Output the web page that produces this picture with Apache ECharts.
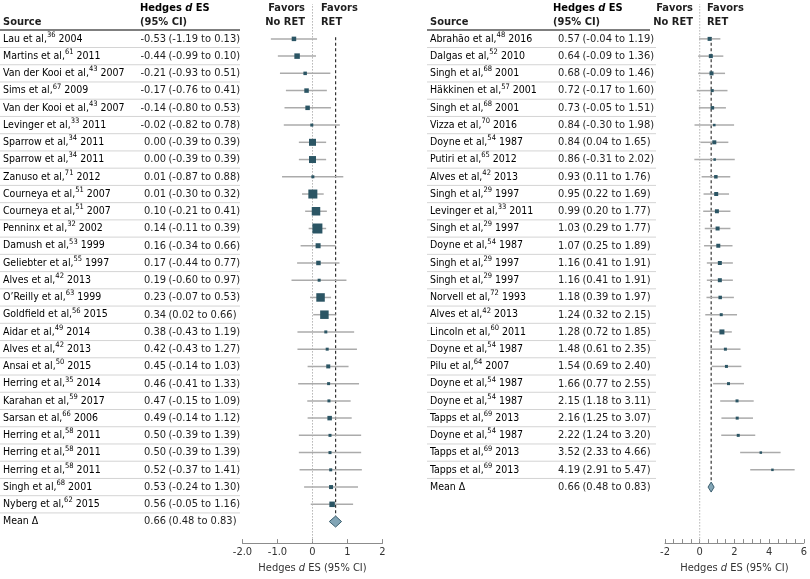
<!DOCTYPE html>
<html><head><meta charset="utf-8">
<script src="https://cdn.jsdelivr.net/npm/echarts@6/dist/echarts.min.js"></script>
<style>html,body{margin:0;padding:0;background:#fff}#c{width:810px;height:579px}</style>
</head><body><div id="c"></div>
<script>
// ---------- data ----------
const leftAuthors = ['Lau et al,','Martins et al,','Van der Kooi et al,','Sims et al,','Van der Kooi et al,','Levinger et al,','Sparrow et al,','Sparrow et al,','Zanuso et al,','Courneya et al,','Courneya et al,','Penninx et al,','Damush et al,','Geliebter et al,','Alves et al,','O\u2019Reilly et al,','Goldfield et al,','Aidar et al,','Alves et al,','Ansai et al,','Herring et al,','Karahan et al,','Sarsan et al,','Herring et al,','Herring et al,','Herring et al,','Singh et al,','Nyberg et al,'];
const leftRefs = [36,61,43,67,43,33,34,34,71,51,51,32,53,55,42,63,56,49,42,50,35,59,66,58,58,58,68,62];
const leftYears = [2004,2011,2007,2009,2007,2011,2011,2011,2012,2007,2007,2002,1999,1997,2013,1999,2015,2014,2013,2015,2014,2017,2006,2011,2011,2011,2001,2015];
const leftES = [-0.53,-0.44,-0.21,-0.17,-0.14,-0.02,0.00,0.00,0.01,0.01,0.10,0.14,0.16,0.17,0.19,0.23,0.34,0.38,0.42,0.45,0.46,0.47,0.49,0.50,0.50,0.52,0.53,0.56];
const leftLo = [-1.19,-0.99,-0.93,-0.76,-0.80,-0.82,-0.39,-0.39,-0.87,-0.30,-0.21,-0.11,-0.34,-0.44,-0.60,-0.07,0.02,-0.43,-0.43,-0.14,-0.41,-0.15,-0.14,-0.39,-0.39,-0.37,-0.24,-0.05];
const leftHi = [0.13,0.10,0.51,0.41,0.53,0.78,0.39,0.39,0.88,0.32,0.41,0.39,0.66,0.77,0.97,0.53,0.66,1.19,1.27,1.03,1.33,1.09,1.12,1.39,1.39,1.41,1.30,1.16];
const leftWeights = [4.5,5.5,3.5,4.5,4.5,3,7,7,3,9,8.5,10,5,4.5,3,8.5,8.5,3,3,4,3,3,4.5,3,3,3,4,5.5];

const rightAuthors = ['Abrah\u00e3o et al,','Dalgas et al,','Singh et al,','H\u00e4kkinen et al,','Singh et al,','Vizza et al,','Doyne et al,','Putiri et al,','Alves et al,','Singh et al,','Levinger et al,','Singh et al,','Doyne et al,','Singh et al,','Singh et al,','Norvell et al,','Alves et al,','Lincoln et al,','Doyne et al,','Pilu et al,','Doyne et al,','Doyne et al,','Tapps et al,','Doyne et al,','Tapps et al,','Tapps et al,'];
const rightRefs = [48,52,68,57,68,70,54,65,42,29,33,29,54,29,29,72,42,60,54,64,54,54,69,54,69,69];
const rightYears = [2016,2010,2001,2001,2001,2016,1987,2012,2013,1997,2011,1997,1987,1997,1997,1993,2013,2011,1987,2007,1987,1987,2013,1987,2013,2013];
const rightES = [0.57,0.64,0.68,0.72,0.73,0.84,0.84,0.86,0.93,0.95,0.99,1.03,1.07,1.16,1.16,1.18,1.24,1.28,1.48,1.54,1.66,2.15,2.16,2.22,3.52,4.19];
const rightLo = [-0.04,-0.09,-0.09,-0.17,-0.05,-0.30,0.04,-0.31,0.11,0.22,0.20,0.29,0.25,0.41,0.41,0.39,0.32,0.72,0.61,0.69,0.77,1.18,1.25,1.24,2.33,2.91];
const rightHi = [1.19,1.36,1.46,1.60,1.51,1.98,1.65,2.02,1.76,1.69,1.77,1.77,1.89,1.91,1.91,1.97,2.15,1.85,2.35,2.40,2.55,3.11,3.07,3.20,4.66,5.47];
const rightWeights = [4,4,4,3,3.5,2.5,4,2.5,3.5,4,4,4,4,4,4,3.5,3,5,3,3,3,3,3,3,2.5,2.5];

const meanES = 0.66, meanLo = 0.48, meanHi = 0.83;

const leftTickValues = [-2,-1,0,1,2];
const leftTickLabels = ['-2.0','-1.0','0','1','2'];
const rightTickValues = [-2,0,2,4,6];
const rightTickLabels = ['-2','0','2','4','6'];

// ---------- style ----------
const FONT = '"Liberation Sans Narrow", "DejaVu Sans Condensed", "Roboto", sans-serif';
const TXT = '#1e1e1e';
const MARK = '#2b5564';
const rich = {
  n: {fontFamily: FONT, fontSize: 10.5, lineHeight: 16, color: TXT},
  s: {fontFamily: FONT, fontSize: 7.5, lineHeight: 10, color: TXT, verticalAlign: 'top'},
  b: {fontFamily: FONT, fontSize: 11, lineHeight: 14, color: TXT, fontWeight: 'bold'},
  bi: {fontFamily: FONT, fontSize: 11, lineHeight: 14, color: TXT, fontWeight: 'bold', fontStyle: 'italic'},
  a: {fontFamily: FONT, fontSize: 11, color: '#333'},
  i: {fontFamily: FONT, fontSize: 11, color: '#333', fontStyle: 'italic'}
};
const f2 = v => v.toFixed(2);

function tableSeries(g, authors, refs, years, es, lo, hi, cfg) {
  const rows = authors.map((a, i) => [0, i]);
  rows.push([0, authors.length]);
  return {
    type: 'custom', xAxisIndex: g, yAxisIndex: g, clip: false, silent: true, z: 1,
    data: rows,
    renderItem: (params, api) => {
      const i = api.value(1);
      const y = api.coord([0, i])[1];
      const step = Math.abs(api.size([0, 1])[1]);
      const isMean = i === authors.length;
      const e = isMean ? meanES : es[i], l = isMean ? meanLo : lo[i], h = isMean ? meanHi : hi[i];
      const src = isMean ? '{n|Mean \u0394}' : `{n|${authors[i]}}{s|${refs[i]}}{n| ${years[i]}}`;
      const children = [
        {type: 'text', style: {text: src, x: cfg.srcX, y, align: 'left', verticalAlign: 'middle', rich}},
        {type: 'text', style: {text: f2(e), x: cfg.esX, y, align: 'right', verticalAlign: 'middle', fontFamily: FONT, fontSize: 11, fill: TXT}},
        {type: 'text', style: {text: `(${f2(l)} to ${f2(h)})`, x: cfg.esX + 2.5, y, align: 'left', verticalAlign: 'middle', fontFamily: FONT, fontSize: 11, fill: TXT}}
      ];
      if (!isMean) children.push({type: 'line', shape: {x1: cfg.sep1, y1: y + step / 2, x2: cfg.sep2, y2: y + step / 2}, style: {stroke: '#d4d4d4', lineWidth: 1}});
      return {type: 'group', children};
    }
  };
}

function ciSeries(g, es, lo, hi) {
  return {
    type: 'custom', xAxisIndex: g, yAxisIndex: g, clip: false, silent: true, z: 3,
    data: es.map((e, i) => [lo[i], hi[i], i]),
    renderItem: (params, api) => {
      const p1 = api.coord([api.value(0), api.value(2)]);
      const p2 = api.coord([api.value(1), api.value(2)]);
      return {type: 'line', shape: {x1: p1[0], y1: p1[1], x2: p2[0], y2: p2[1]}, style: {stroke: '#ababab', lineWidth: 1.5}};
    }
  };
}

function markSeries(g, es, w) {
  return {
    type: 'scatter', xAxisIndex: g, yAxisIndex: g, silent: true, z: 4,
    symbol: 'rect', symbolSize: v => v[2],
    itemStyle: {color: MARK, opacity: 1},
    data: es.map((e, i) => [e, i, w[i]])
  };
}

function diamondSeries(g, row, halfH) {
  return {
    type: 'custom', xAxisIndex: g, yAxisIndex: g, clip: false, silent: true, z: 5,
    data: [[meanES, meanLo, meanHi, row]],
    renderItem: (params, api) => {
      const r = api.value(3);
      const c = api.coord([api.value(0), r]);
      const a = api.coord([api.value(1), r]);
      const b = api.coord([api.value(2), r]);
      return {type: 'polygon', shape: {points: [[a[0], c[1]], [c[0], c[1] - halfH], [b[0], c[1]], [c[0], c[1] + halfH]]},
        style: {fill: '#82a5b6', stroke: '#3d6070', lineWidth: 1}};
    }
  };
}

function refLines(g, row) {
  return [
    {type: 'line', xAxisIndex: g, yAxisIndex: g, silent: true, symbol: 'none', z: 2, animation: false,
     lineStyle: {color: '#b5b5b5', width: 1, type: [1.5, 1.5]}, data: [[0, -2.25], [0, 29.25]]},
    {type: 'line', xAxisIndex: g, yAxisIndex: g, silent: true, symbol: 'none', z: 2, animation: false,
     lineStyle: {color: '#333', width: 1.2, type: [3, 2.5]}, data: [[meanES, -0.1], [meanES, row - 0.3]]}
  ];
}

const yBase = {type: 'value', inverse: true, min: -2, max: 29.25, show: false};
function xAxis(g, min, max, interval, vals, labs, minor) {
  return {
    type: 'value', gridIndex: g, min, max, interval, position: 'bottom',
    axisLine: {show: true, onZero: false, lineStyle: {color: '#8c8c8c', width: 1}},
    axisTick: {show: true, inside: true, length: 4, lineStyle: {color: '#8c8c8c'}},
    minorTick: {show: minor > 0, splitNumber: minor || 5, length: 4, lineStyle: {color: '#8c8c8c'}},
    splitLine: {show: false},
    axisLabel: {margin: 4, color: '#333', fontFamily: FONT, fontSize: 11,
      formatter: v => { const k = vals.findIndex(t => Math.abs(t - v) < 1e-9); return k >= 0 ? labs[k] : ''; }},
    name: '{a|Hedges }{i|d}{a| ES (95% CI)}', nameLocation: 'middle', nameGap: 19,
    nameTextStyle: {rich}
  };
}

function header(xSrc, xEs, xRule1, xRule2, xNo, xYes) {
  const t = (text, x, y, align, extra) => ({type: 'text', x, y, style: Object.assign({text, align, verticalAlign: 'middle', fontFamily: FONT, fontSize: 11, fontWeight: 'bold', fill: TXT}, extra || {})});
  return [
    t('Source', xSrc, 22, 'left'),
    {type: 'text', x: xEs, y: 8, style: {text: '{b|Hedges }{bi|d}{b| ES}', rich, align: 'left', verticalAlign: 'middle'}},
    t('(95% CI)', xEs, 22, 'left'),
    {type: 'line', shape: {x1: xRule1, y1: 30, x2: xRule2, y2: 30}, style: {stroke: '#555', lineWidth: 1.3}},
    t('Favors', xNo, 8, 'right'), t('No RET', xNo, 22, 'right'),
    t('Favors', xYes, 8, 'left'), t('RET', xYes, 22, 'left')
  ];
}

const chart = echarts.init(document.getElementById('c'), null, {renderer: 'canvas'});
chart.setOption({
  animation: false,
  backgroundColor: '#fff',
  grid: [
    {left: 242.5, width: 140, top: 4.4, bottom: 33.6},
    {left: 665, width: 140, top: 4.4, bottom: 33.6}
  ],
  xAxis: [
    xAxis(0, -2, 2, 1, leftTickValues, leftTickLabels, 0),
    xAxis(1, -2, 6, 2, rightTickValues, rightTickLabels, 4)
  ],
  yAxis: [Object.assign({gridIndex: 0}, yBase), Object.assign({gridIndex: 1}, yBase)],
  graphic: [...header(3, 140, 0, 240, 305, 321), ...header(430, 553, 427, 650, 693, 707)],
  series: [
    tableSeries(0, leftAuthors, leftRefs, leftYears, leftES, leftLo, leftHi, {srcX: 3, esX: 166, sep1: 0, sep2: 240}),
    tableSeries(1, rightAuthors, rightRefs, rightYears, rightES, rightLo, rightHi, {srcX: 430, esX: 580, sep1: 427, sep2: 656}),
    ...refLines(0, leftAuthors.length), ...refLines(1, rightAuthors.length),
    ciSeries(0, leftES, leftLo, leftHi), ciSeries(1, rightES, rightLo, rightHi),
    markSeries(0, leftES, leftWeights), markSeries(1, rightES, rightWeights),
    diamondSeries(0, leftAuthors.length, 5.5), diamondSeries(1, rightAuthors.length, 5)
  ]
});
</script></body></html>
